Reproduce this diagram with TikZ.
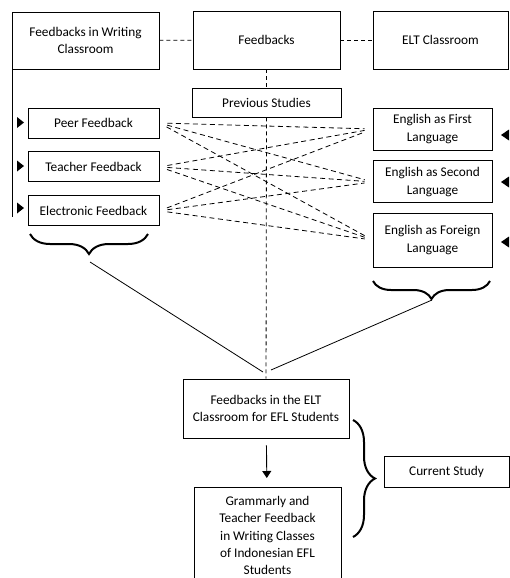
\documentclass[tikz,border=0pt]{standalone}
\usepackage{fontspec}
\setmainfont{Carlito}
\usetikzlibrary{positioning,decorations.pathreplacing,arrows.meta}

\begin{document}
\begin{tikzpicture}[x=1pt,y=-1pt,font=\fontsize{13.3}{17.3}\selectfont,
    box/.style={draw,line width=0.9pt,align=center,inner sep=2pt},
    linkline/.style={dash pattern=on 4pt off 3pt,line width=0.8pt},
    fanline/.style={dash pattern=on 5pt off 3.5pt,line width=0.8pt,shorten <=8pt,shorten >=8pt},
    bracebig/.style={decorate,decoration={brace,amplitude=#1},line width=2pt}]

    \useasboundingbox (0,0) rectangle (509,578);

    % top row
    \node[box,minimum width=147,minimum height=57] (wrc) at (85.5,40.5) {Feedbacks in Writing\\Classroom};
    \node[box,minimum width=147,minimum height=58] (fb)  at (266.5,40) {Feedbacks};
    \node[box,minimum width=135,minimum height=58] (elt) at (440.5,40) {ELT Classroom};
    \node[box,minimum width=149,minimum height=29] (prev) at (266.5,102.5) {Previous Studies};

    % feedback types
    \node[box,minimum width=131,minimum height=30] (peer)    at (93.5,123) {Peer Feedback};
    \node[box,minimum width=131,minimum height=30] (teacher) [below=13pt of peer]    {Teacher Feedback};
    \node[box,minimum width=131,minimum height=30] (elec)    [below=13pt of teacher] {Electronic Feedback};

    % language settings
    \node[box,minimum width=119,minimum height=42] (first)   at (432.5,129) {English as First\\Language};
    \node[box,minimum width=119,minimum height=42] (second)  [below=10pt of first] {English as Second\\Language};
    \node[box,minimum width=119,minimum height=54] (foreign) at (432.5,240) {English as Foreign\\Language};

    % bottom
    \node[box,minimum width=166,minimum height=59] (eltefl) at (266,408.5) {Feedbacks in the ELT\\Classroom for EFL Students};
    \node[box,minimum width=147,minimum height=96,anchor=north,yshift=2pt] (gram) at (267.5,489) {Grammarly and\\Teacher Feedback\\in Writing Classes\\of Indonesian EFL\\Students};
    \node[box,minimum width=125,minimum height=31] (current) at (446.5,471.5) {Current Study};

    \coordinate (leftend) at (13,217);
    \coordinate (lefttip) at (90,262);
    \coordinate (righttip) at (432,300);
    \coordinate (meetl) at (263,372);
    \coordinate (meetr) at (271,370);

    % links
    \draw[linkline] (wrc) -- (fb);
    \draw[linkline] (fb) -- (elt);
    \draw[linkline] (fb) -- (prev);
    \draw[linkline] (prev) -- (eltefl);
    \draw[line width=0.9pt] (wrc.south west) ++(1,0) coordinate (leftstart) -- (leftstart |- leftend);

    \foreach \a in {peer,teacher,elec}
      \foreach \b in {first,second,foreign}
        \draw[fanline] (\a.east) -- (\b.west);

    % markers
    \foreach \y in {122.5,166,208}
      \fill (17,\y-5.5) -- (24,\y) -- (17,\y+5.5) -- cycle;
    \foreach \y in {135,182,242}
      \fill (509,\y-5.5) -- (501,\y) -- (509,\y+5.5) -- cycle;

    % braces
    \draw[bracebig=20pt] (148,234) -- (30,234);
    \draw[bracebig=18pt] (490,281) -- (373,281);
    \draw[bracebig=22pt] (353,420) -- (353,537);

    \draw[line width=0.8pt] (lefttip) -- (meetl);
    \draw[line width=0.8pt] (righttip) -- (meetr);
    \draw[-{Triangle[width=9pt,length=7pt]},line width=0.9pt,shorten <=7pt,shorten >=9pt] (eltefl) -- (gram);

\end{tikzpicture}
\end{document}
